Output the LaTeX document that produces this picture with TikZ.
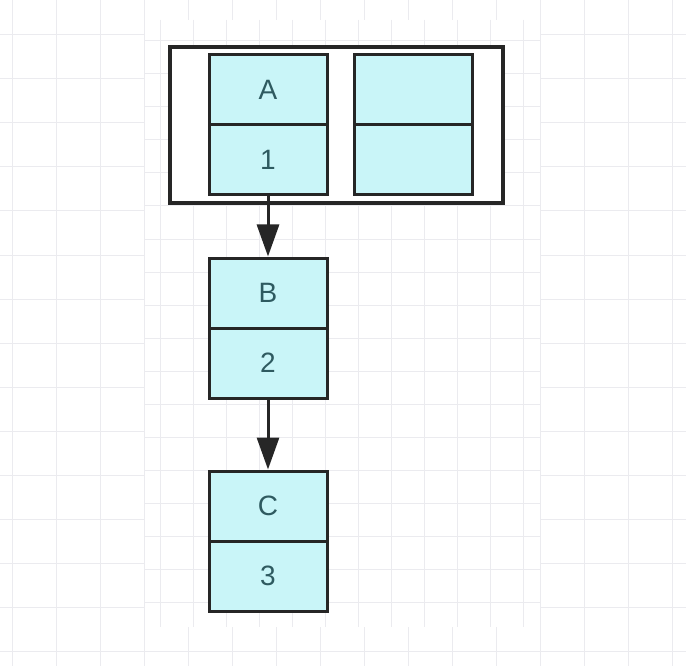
\documentclass[tikz,border=0pt]{standalone}
\usepackage{fontspec}
\setmainfont{Liberation Sans}
\usepackage{tikz}
\usetikzlibrary{arrows.meta,positioning}
\definecolor{cellfill}{HTML}{C9F5F8}
\definecolor{celltext}{HTML}{2E5A60}
\definecolor{gridline}{HTML}{EBEBEF}
\definecolor{edgecol}{HTML}{262626}

\begin{document}
\begin{tikzpicture}[x=1pt,y=-1pt,
    cell/.style={rectangle,draw=edgecol,line width=3pt,fill=cellfill,minimum width=118pt,minimum height=70pt,inner sep=0pt,text=celltext,font=\fontsize{28}{30}\selectfont},
    frame/.style={rectangle,draw=edgecol,line width=3.2pt,fill=white,minimum width=333pt,minimum height=156pt},
    arr/.style={draw=edgecol,line width=3pt,-{Triangle[length=32pt,width=22pt]}}]
          \useasboundingbox (0,0) rectangle (686,666);
          % Draw the background grid
          \fill[white] (0,0) rectangle (686,666);
          \foreach \x in {12,56,...,672} \draw[gridline,line width=1pt] (\x,0) -- (\x,666);
          \foreach \y in {35,79,...,651} \draw[gridline,line width=1pt] (0,\y) -- (686,\y);
          \fill[white] (145,20) rectangle (540,627);
          \foreach \x in {160,193,...,524} \draw[gridline,line width=1pt] (\x,20) -- (\x,627);
          \foreach \y in {41,74,...,605} \draw[gridline,line width=1pt] (145,\y) -- (540,\y);

          % Draw the outer frame
          \node[frame] (fr) at (336.5,125) {};

          % Draw the cells
          \node[cell] (a) at (268,90) {A};
          \node[cell] (n1) at (268,160) {1};
          \node[cell] (e1) at (413.5,90) {};
          \node[cell] (e2) at (413.5,160) {};
          \node[cell] (b) at (268,293) {B};
          \node[cell] (n2) at (268,363) {2};
          \node[cell] (c) at (268,506) {C};
          \node[cell] (n3) at (268,576) {3};

          % Draw the edges
          \draw[arr] (n1.south) -- (b.north);
          \draw[arr] (n2.south) -- (c.north);
\end{tikzpicture}
\end{document}
